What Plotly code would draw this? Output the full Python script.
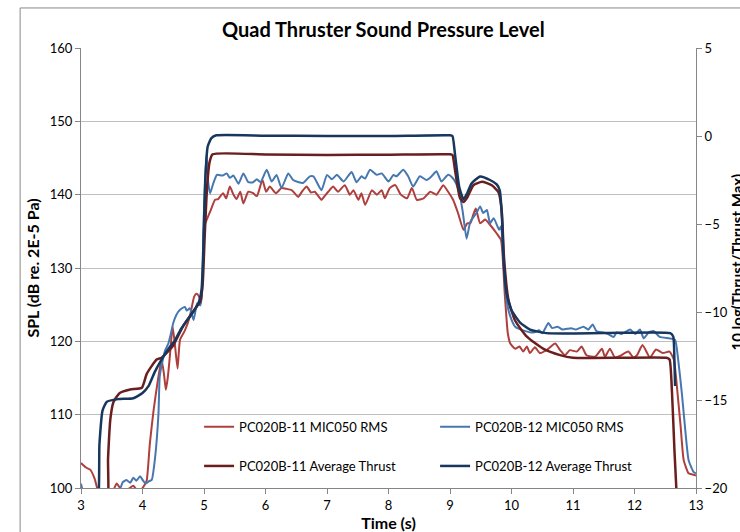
import plotly.graph_objects as go

# ---------------- data ----------------
t_rms11 = [3.00,3.08,3.15,3.22,3.28,3.35,3.45,3.52,3.58,3.65,3.72,3.78,3.85,3.92,3.98,4.04,4.07,4.12,4.18,4.25,
           4.31,4.35,4.38,4.41,4.44,4.49,4.53,4.57,4.61,4.69,4.77,4.84,4.88,4.92,4.95,4.98,5.00,5.04,5.11,5.18,
           5.23,5.31,5.36,5.42,5.48,5.53,5.59,5.64,5.72,5.80,5.86,5.95,6.01,6.07,6.17,6.26,6.34,6.43,6.53,6.60,
           6.67,6.74,6.80,6.86,6.91,6.96,7.02,7.10,7.18,7.29,7.37,7.43,7.51,7.56,7.62,7.73,7.81,7.89,7.94,8.02,
           8.11,8.20,8.30,8.38,8.46,8.57,8.68,8.78,8.89,8.97,9.05,9.13,9.22,9.28,9.33,9.38,9.42,9.49,9.57,9.65,
           9.76,9.83,9.89,9.94,9.98,10.06,10.13,10.19,10.25,10.30,10.38,10.46,10.57,10.71,10.79,10.87,10.95,11.06,11.14,11.22,
           11.36,11.47,11.52,11.60,11.68,11.76,11.90,11.98,12.04,12.13,12.25,12.35,12.46,12.57,12.64,12.70,12.75,12.80,12.88,12.96,
           13.00]
spl_rms11 = [103.4,102.8,102.5,101.3,99.5,98.5,99.2,99.6,100.6,99.8,99.4,99.9,100.3,99.6,99.8,100.5,101.1,106.1,110.6,114.7,
             117.5,115.5,113.4,115.0,117.5,122.0,119.3,116.3,120.2,121.5,123.4,126.1,126.5,126.1,125.2,128.5,135.6,136.5,137.9,139.3,
             139.4,140.2,139.5,141.1,140.0,139.4,140.4,138.8,140.4,140.2,139.8,142.0,140.4,141.1,140.2,140.9,140.8,140.6,139.7,140.5,
             141.1,140.3,140.4,139.8,139.3,139.8,140.4,141.1,140.4,141.3,140.0,140.6,139.3,140.2,138.6,140.6,140.0,140.6,139.5,140.9,
             141.3,140.0,139.5,140.9,139.3,139.5,140.4,140.0,141.3,140.4,139.3,137.5,135.2,136.1,136.1,137.3,138.1,136.1,136.6,135.9,
             134.7,133.8,126.5,121.1,119.7,119.0,119.3,118.6,119.3,118.4,119.2,118.4,118.8,119.7,118.8,118.1,118.8,118.6,119.3,118.1,
             117.9,119.0,117.9,119.0,117.8,118.0,118.6,117.8,118.1,119.5,117.8,118.9,118.4,118.6,117.5,112.9,108.4,103.8,102.0,101.8,
             101.7]

t_rms12 = [3.00,3.03,3.10,3.30,3.50,3.62,3.68,3.74,3.80,3.85,3.90,3.96,4.01,4.05,4.10,4.15,4.20,4.26,4.28,4.33,
           4.37,4.42,4.46,4.50,4.55,4.61,4.69,4.72,4.77,4.83,4.89,4.94,4.97,5.00,5.04,5.07,5.10,5.15,5.21,5.30,
           5.37,5.42,5.48,5.56,5.64,5.72,5.80,5.86,5.92,6.02,6.10,6.18,6.26,6.37,6.45,6.61,6.72,6.78,6.91,7.00,
           7.08,7.16,7.27,7.40,7.48,7.56,7.62,7.70,7.81,7.89,8.00,8.08,8.13,8.24,8.32,8.40,8.51,8.62,8.70,8.78,
           8.86,8.97,9.05,9.10,9.16,9.21,9.27,9.33,9.43,9.49,9.54,9.60,9.65,9.71,9.80,9.83,9.87,9.92,9.98,10.06,
           10.19,10.36,10.45,10.50,10.60,10.66,10.75,10.83,10.97,11.05,11.17,11.25,11.32,11.38,11.49,11.57,11.66,11.71,11.79,11.93,
           12.01,12.09,12.15,12.23,12.31,12.41,12.57,12.66,12.71,12.77,12.82,12.88,12.96,13.00]
spl_rms12 = [100.6,99.5,97.5,97.0,98.0,99.5,100.8,101.1,100.7,101.4,101.0,101.6,101.0,100.6,100.9,101.1,103.8,110.2,115.2,117.5,
             118.8,119.7,121.0,122.5,123.6,124.3,124.7,124.2,124.5,122.9,125.2,124.9,127.0,137.9,145.5,141.5,140.2,141.5,142.7,142.6,
             142.9,142.3,142.6,141.5,142.9,141.7,141.7,142.1,141.7,143.4,141.8,142.7,140.9,142.9,142.0,141.6,142.5,142.5,140.6,142.7,
             142.1,142.7,141.8,143.1,141.7,142.5,142.2,143.4,142.7,142.9,141.8,142.7,142.5,143.4,142.5,141.1,142.5,142.0,142.5,143.2,
             141.8,142.7,142.2,141.5,140.0,137.5,134.0,136.3,137.5,138.4,137.5,137.9,136.1,136.8,135.2,135.7,131.1,125.6,123.4,122.0,
             121.5,121.2,121.5,121.1,122.5,121.8,122.0,121.6,121.8,121.6,122.0,121.6,122.3,121.4,121.2,121.0,120.6,121.2,121.0,121.6,
             121.0,121.6,120.4,121.2,121.4,120.6,120.4,120.2,117.5,112.9,108.4,103.8,102.2,102.0]

# Average thrust, 10 log(Thrust/Thrust Max) in dB (right axis)
t_thr11 = [3.00,3.41,3.44,3.48,3.53,3.63,3.80,3.99,4.07,4.23,4.31,4.40,4.50,4.66,4.78,4.88,4.94,4.98,5.01,5.05,
           5.09,5.14,6.00,7.00,8.00,9.00,9.04,9.08,9.16,9.22,9.28,9.38,9.52,9.68,9.79,9.84,9.88,9.95,10.06,10.25,
           10.52,10.79,11.00,11.80,12.52,12.57,12.61,12.65,12.68,12.70]
thr11 = [-22.1,-21.7,-18.3,-16.0,-15.1,-14.6,-14.4,-14.3,-13.5,-12.7,-12.6,-12.3,-11.9,-10.8,-10.2,-9.7,-9.4,-8.3,-5.8,-2.9,
         -1.5,-1.04,-1.05,-1.08,-1.06,-1.04,-1.08,-1.9,-3.5,-3.75,-3.5,-2.8,-2.6,-2.8,-3.2,-4.2,-7.0,-9.3,-10.5,-11.4,
         -12.1,-12.45,-12.6,-12.6,-12.6,-12.7,-14.6,-17.9,-20.0,-21.7]

t_thr12 = [3.00,3.25,3.30,3.35,3.42,3.60,3.85,4.00,4.10,4.20,4.31,4.42,4.53,4.62,4.72,4.82,4.91,4.96,4.99,5.02,
           5.06,5.12,5.20,6.00,7.00,8.00,9.00,9.04,9.08,9.15,9.22,9.28,9.35,9.49,9.65,9.76,9.81,9.85,9.87,9.92,
           10.00,10.14,10.30,10.57,11.50,12.58,12.63,12.65,12.66]
thr12 = [-22.1,-21.7,-17.5,-15.6,-15.1,-14.95,-14.9,-14.6,-14.2,-13.4,-12.7,-12.1,-11.6,-11.0,-10.5,-10.0,-9.5,-8.75,-6.25,-2.5,
         -0.6,-0.12,0.04,0.02,0.0,0.0,0.04,0.0,-1.0,-2.9,-3.6,-3.25,-2.7,-2.3,-2.5,-2.75,-3.1,-5.0,-7.0,-8.96,
         -9.9,-10.6,-11.0,-11.2,-11.2,-11.2,-11.4,-12.9,-14.2]

names = ["PC020B-11 MIC050 RMS", "PC020B-12 MIC050 RMS",
         "PC020B-11 Average Thrust", "PC020B-12 Average Thrust"]
colors = ["#AF3F3D", "#4677B0", "#6B1E1E", "#17375E"]

x_ticks = list(range(3, 14))
y_ticks = list(range(100, 161, 10))
y2_ticks = list(range(-20, 6, 5))

FONT = "Lato, 'Open Sans', sans-serif"

fig = go.Figure()
fig.add_trace(go.Scatter(x=t_rms11, y=spl_rms11, name=names[0], mode="lines",
                         line=dict(color=colors[0], width=2, shape="spline", smoothing=0.5),
                         legend="legend"))
fig.add_trace(go.Scatter(x=t_rms12, y=spl_rms12, name=names[1], mode="lines",
                         line=dict(color=colors[1], width=2, shape="spline", smoothing=0.5),
                         legend="legend"))
fig.add_trace(go.Scatter(x=t_thr11, y=thr11, name=names[2], mode="lines", yaxis="y2",
                         line=dict(color=colors[2], width=2.5, shape="spline", smoothing=0.5),
                         legend="legend2"))
fig.add_trace(go.Scatter(x=t_thr12, y=thr12, name=names[3], mode="lines", yaxis="y2",
                         line=dict(color=colors[3], width=2.5, shape="spline", smoothing=0.5),
                         legend="legend2"))

axis_common = dict(showline=True, linecolor="#868686", linewidth=1, ticks="outside",
                   ticklen=5, tickcolor="#868686", tickfont=dict(size=13, color="#000000", family=FONT),
                   zeroline=False, automargin=False)

legend_common = dict(orientation="h", x=0.192, xanchor="left", yanchor="middle",
                     bgcolor="rgba(0,0,0,0)", entrywidth=191, entrywidthmode="pixels",
                     font=dict(size=13, family=FONT), itemwidth=30)

fig.update_layout(
    width=740, height=532,
    margin=dict(l=81, r=44, t=48, b=44, autoexpand=False),
    paper_bgcolor="white", plot_bgcolor="white",
    font=dict(family=FONT, size=13, color="#000000"),
    title=dict(text="<b>Quad Thruster Sound Pressure Level</b>", x=0.518, xanchor="center",
               y=0.943, yanchor="middle", font=dict(size=20, family=FONT)),
    xaxis=dict(range=[3, 13], tickvals=x_ticks, showgrid=False,
               title=dict(text="<b>Time (s)</b>", standoff=2, font=dict(size=16)), **axis_common),
    yaxis=dict(range=[100, 160], tickvals=y_ticks, showgrid=True, gridcolor="#BFBFBF", gridwidth=1,
               title=dict(text="<b>SPL (dB re. 2E-5 Pa)</b>", standoff=6, font=dict(size=16)), **axis_common),
    yaxis2=dict(range=[-20, 5], tickvals=y2_ticks, overlaying="y", side="right", showgrid=False,
                **axis_common),
    legend=dict(y=0.139, **legend_common),
    legend2=dict(y=0.05, **legend_common),
    showlegend=True,
    annotations=[
        dict(text="<b>10 log(Thrust/Thrust Max)</b>", xref="paper", yref="paper",
             x=1.066, y=0.514, xanchor="center", yanchor="middle", textangle=-90,
             showarrow=False, font=dict(size=15, family=FONT, color="#000000")),
    ],
    shapes=[
        dict(type="rect", xref="paper", yref="paper", x0=0.161, x1=0.914, y0=0.01, y1=0.21,
             fillcolor="white", line=dict(width=0), layer="between"),
        dict(type="rect", xref="paper", yref="paper", x0=-0.099, x1=1.2, y0=-0.2, y1=1.091,
             fillcolor="rgba(0,0,0,0)", line=dict(color="#888888", width=1), layer="below"),
    ],
)

fig.write_html("out.html")
